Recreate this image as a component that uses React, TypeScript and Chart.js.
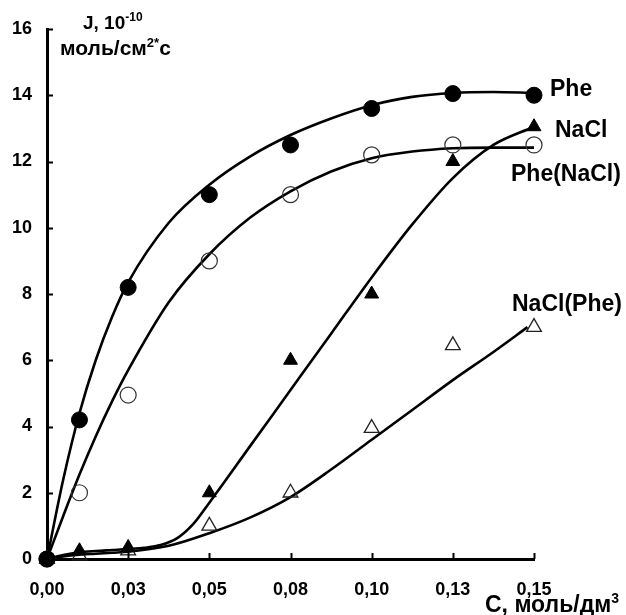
import React, { useEffect, useRef } from 'react';
import { Chart, registerables } from 'chart.js';

Chart.register(...registerables);

// ---- data ----
const xPoints = [0, 0.01, 0.025, 0.05, 0.075, 0.1, 0.125, 0.15];
const phe = [0, 4.2, 8.2, 11.0, 12.5, 13.6, 14.05, 14.0];
const pheNaCl = [0, 2.0, 4.95, 9.0, 11.0, 12.2, 12.5, 12.5];
const nacl = [0, 0.25, 0.35, 2.0, 6.0, 8.0, 12.0, 13.05];
const naclPhe = [0, 0.1, 0.25, 1.0, 2.0, 3.95, 6.45, 7.0];

const curveX = [0, 0.005, 0.01, 0.015, 0.02, 0.025, 0.0375, 0.05, 0.0625, 0.075, 0.0875, 0.1, 0.1125, 0.125, 0.1375, 0.15];
const pheCurve = [0, 2.4, 4.4, 6.0, 7.3, 8.35, 10.15, 11.3, 12.15, 12.8, 13.3, 13.7, 13.95, 14.07, 14.1, 14.07];
const pheNaClCurve = [0, 1.3, 2.55, 3.7, 4.75, 5.7, 7.75, 9.2, 10.3, 11.1, 11.7, 12.1, 12.3, 12.4, 12.42, 12.42];

const naclCurveX = [0, 0.005, 0.01, 0.015, 0.02, 0.025, 0.03, 0.035, 0.04, 0.045, 0.05, 0.0625, 0.075, 0.0875, 0.1, 0.1125, 0.125, 0.1375, 0.15];
const naclCurve = [0, 0.12, 0.2, 0.24, 0.27, 0.3, 0.34, 0.42, 0.62, 1.05, 1.7, 3.4, 5.1, 6.8, 8.5, 10.1, 11.5, 12.5, 13.05];

const naclPheCurveX = [0, 0.005, 0.01, 0.015, 0.02, 0.025, 0.0375, 0.05, 0.0625, 0.075, 0.0875, 0.1, 0.1125, 0.125, 0.1375, 0.148];
const naclPheCurve = [0, 0.08, 0.13, 0.16, 0.19, 0.22, 0.4, 0.78, 1.25, 1.87, 2.7, 3.6, 4.5, 5.4, 6.25, 7.0];

const xTickValues = [0, 0.025, 0.05, 0.075, 0.1, 0.125, 0.15];
const xTickLabels = ['0,00', '0,03', '0,05', '0,08', '0,10', '0,13', '0,15'];
const yTickValues = [0, 2, 4, 6, 8, 10, 12, 14, 16];
const yTickLabels = ['0', '2', '4', '6', '8', '10', '12', '14', '16'];

const seriesNames = ['Phe', 'NaCl', 'Phe(NaCl)', 'NaCl(Phe)'];

const FONT = '"Liberation Sans", Arial, sans-serif';

const toPts = (xs: number[], ys: number[]) => xs.map((x, i) => ({ x, y: ys[i] }));

function rich(ctx: CanvasRenderingContext2D, x: number, y: number, parts: [string, number, number][]) {
  let cx = x;
  for (const [t, s, dy] of parts) {
    ctx.font = `bold ${s}px ${FONT}`;
    ctx.fillText(t, cx, y + dy);
    cx += ctx.measureText(t).width;
  }
}

const decorPlugin = {
  id: 'decor',
  afterDraw(chart: any) {
    const ctx: CanvasRenderingContext2D = chart.ctx;
    const xs = chart.scales.x;
    const ys = chart.scales.y;
    const area = chart.chartArea;
    ctx.save();
    ctx.strokeStyle = '#000';
    ctx.lineWidth = 2;
    // inside tick marks
    yTickValues.forEach((v) => {
      const py = Math.round(ys.getPixelForValue(v)) + 0.5;
      ctx.beginPath();
      ctx.moveTo(area.left, py);
      ctx.lineTo(area.left + 6, py);
      ctx.stroke();
    });
    xTickValues.forEach((v) => {
      const px = Math.round(xs.getPixelForValue(v)) + 0.5;
      ctx.beginPath();
      ctx.moveTo(px, area.bottom);
      ctx.lineTo(px, area.bottom - 6);
      ctx.stroke();
    });
    ctx.fillStyle = '#000';
    ctx.textAlign = 'left';
    ctx.textBaseline = 'alphabetic';
    // axis titles
    rich(ctx, 83, 29, [['J, 10', 19, 0], ['-10', 12, -8]]);
    rich(ctx, 60, 55, [['моль/см', 21, 0], ['2*', 13, -8], ['с', 21, 0]]);
    rich(ctx, 485, 612, [['С, моль/дм', 23, 0], ['3', 14, -9]]);
    // series labels
    ctx.font = `bold 23px ${FONT}`;
    ctx.fillText(seriesNames[0], 550, 96);
    ctx.fillText(seriesNames[1], 555, 137);
    ctx.fillText(seriesNames[2], 511, 181);
    ctx.fillText(seriesNames[3], 512, 311);
    ctx.restore();
  },
};

export default function App() {
  const ref = useRef<HTMLCanvasElement>(null);
  useEffect(() => {
    if (!ref.current) return;
    const curve = (label: string, xs: number[], ys: number[]) => ({
      type: 'line' as const,
      label,
      data: toPts(xs, ys),
      borderColor: '#000',
      borderWidth: 2.6,
      pointRadius: 0,
      showLine: true,
      fill: false,
      cubicInterpolationMode: 'monotone' as const,
      clip: false as const,
      order: 1,
    });
    const markers = (label: string, ys: number[], style: string, radius: number, bg: string, bw: number, bc: string) => ({
      type: 'scatter' as const,
      label,
      data: toPts(xPoints, ys),
      pointStyle: style,
      pointRadius: radius,
      pointBackgroundColor: bg,
      pointBorderColor: bc,
      pointBorderWidth: bw,
      showLine: false,
      clip: false as const,
      order: 0,
    });
    const chart = new Chart(ref.current, {
      type: 'scatter',
      data: {
        datasets: [
          markers(seriesNames[0], phe, 'circle', 8, '#000', 1, '#000'),
          markers(seriesNames[2], pheNaCl, 'circle', 8, 'rgba(255,255,255,0)', 1.2, '#333'),
          markers(seriesNames[1], nacl, 'triangle', 8, '#000', 1, '#000'),
          markers(seriesNames[3], naclPhe, 'triangle', 8.5, 'rgba(255,255,255,0)', 1.3, '#222'),
          curve(seriesNames[0], curveX, pheCurve),
          curve(seriesNames[2], curveX, pheNaClCurve),
          curve(seriesNames[1], naclCurveX, naclCurve),
          curve(seriesNames[3], naclPheCurveX, naclPheCurve),
        ] as any,
      },
      options: {
        responsive: false,
        animation: false,
        events: [],
        layout: { padding: { top: 29, right: 92, left: 0, bottom: 0 } },
        plugins: { legend: { display: false }, tooltip: { enabled: false } },
        scales: {
          x: {
            type: 'linear',
            min: 0,
            max: 0.15,
            afterBuildTicks: (s: any) => {
              s.ticks = xTickValues.map((v) => ({ value: v }));
            },
            afterFit: (s: any) => {
              s.height = 56;
            },
            ticks: {
              callback: (_v: any, i: number) => xTickLabels[i],
              font: { family: FONT, size: 18, weight: 'bold' },
              color: '#000',
              padding: 20,
              maxRotation: 0,
              autoSkip: false,
            },
            grid: { display: false, drawTicks: false },
            border: { display: true, color: '#000', width: 3 },
          },
          y: {
            type: 'linear',
            min: 0,
            max: 16,
            afterBuildTicks: (s: any) => {
              s.ticks = yTickValues.map((v) => ({ value: v }));
            },
            afterFit: (s: any) => {
              s.width = 47;
            },
            ticks: {
              callback: (_v: any, i: number) => yTickLabels[i],
              font: { family: FONT, size: 18, weight: 'bold' },
              color: '#000',
              padding: 15,
              autoSkip: false,
            },
            grid: { display: false, drawTicks: false },
            border: { display: true, color: '#000', width: 3 },
          },
        },
      } as any,
      plugins: [decorPlugin],
    });
    return () => chart.destroy();
  }, []);
  return (
    <div style={{ position: 'absolute', left: 0, top: 0, width: 626, height: 615, background: '#fff' }}>
      <canvas ref={ref} width={626} height={615} />
    </div>
  );
}
